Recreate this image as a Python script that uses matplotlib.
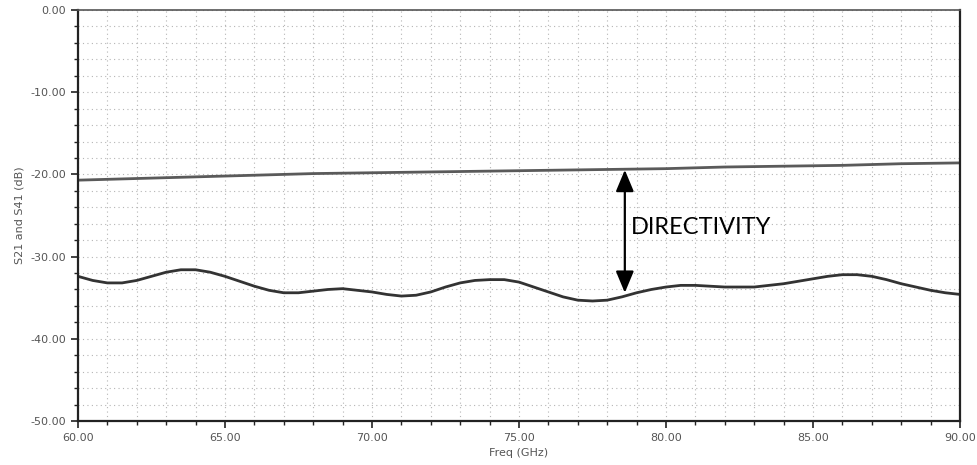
import matplotlib.pyplot as plt
from matplotlib.ticker import MultipleLocator, FormatStrFormatter

# frequency points (GHz) and traces (dB)
freq_upper = [60, 62, 64, 66, 68, 70, 72, 74, 76, 78, 80, 82, 84, 86, 88, 90]
s21 = [-20.7, -20.5, -20.3, -20.1, -19.9, -19.8, -19.7, -19.6, -19.5, -19.4,
       -19.3, -19.1, -19.0, -18.9, -18.7, -18.6]

freq_lower = [60.0, 60.5, 61.0, 61.5, 62.0, 62.5, 63.0, 63.5, 64.0, 64.5,
              65.0, 65.5, 66.0, 66.5, 67.0, 67.5, 68.0, 68.5, 69.0, 69.5,
              70.0, 70.5, 71.0, 71.5, 72.0, 72.5, 73.0, 73.5, 74.0, 74.5,
              75.0, 75.5, 76.0, 76.5, 77.0, 77.5, 78.0, 78.5, 79.0, 79.5,
              80.0, 80.5, 81.0, 81.5, 82.0, 82.5, 83.0, 83.5, 84.0, 84.5,
              85.0, 85.5, 86.0, 86.5, 87.0, 87.5, 88.0, 88.5, 89.0, 89.5, 90.0]
s41 = [-32.4, -32.9, -33.2, -33.2, -32.9, -32.4, -31.9, -31.6, -31.6, -31.9,
       -32.4, -33.0, -33.6, -34.1, -34.4, -34.4, -34.2, -34.0, -33.9, -34.1,
       -34.3, -34.6, -34.8, -34.7, -34.3, -33.7, -33.2, -32.9, -32.8, -32.8,
       -33.1, -33.7, -34.3, -34.9, -35.3, -35.4, -35.3, -34.9, -34.4, -34.0,
       -33.7, -33.5, -33.5, -33.6, -33.7, -33.7, -33.7, -33.5, -33.3, -33.0,
       -32.7, -32.4, -32.2, -32.2, -32.4, -32.8, -33.3, -33.7, -34.1, -34.4, -34.6]

arrow_freq = 78.6
arrow_top = -19.45
arrow_bottom = -34.4

fig = plt.figure(figsize=(9.77, 4.65), dpi=100)
ax = fig.add_axes([0.0798, 0.0946, 0.9028, 0.8839])

ax.plot(freq_upper, s21, color='#5a5a5a', linewidth=2, solid_joinstyle='round')
ax.plot(freq_lower, s41, color='#333333', linewidth=2, solid_joinstyle='round')

ax.set_xlim(60, 90)
ax.set_ylim(-50, 0)

ax.xaxis.set_major_locator(MultipleLocator(5))
ax.xaxis.set_minor_locator(MultipleLocator(1))
ax.yaxis.set_major_locator(MultipleLocator(10))
ax.yaxis.set_minor_locator(MultipleLocator(2))
ax.xaxis.set_major_formatter(FormatStrFormatter('%.2f'))
ax.yaxis.set_major_formatter(FormatStrFormatter('%.2f'))

ax.grid(True, which='both', linestyle=(0, (1, 3)), color='#b5b5b5', linewidth=0.8)
ax.tick_params(axis='both', which='major', direction='out', length=5,
               width=1.2, labelsize=8, labelcolor='#555555', color='#222222')
ax.tick_params(axis='both', which='minor', direction='out', length=3,
               width=1.0, color='#222222')

for side in ['left', 'bottom', 'right']:
    ax.spines[side].set_linewidth(1.6)
    ax.spines[side].set_color('#222222')
ax.spines['top'].set_linewidth(1.2)
ax.spines['top'].set_color('#555555')

ax.set_xlabel('Freq (GHz)', fontsize=8, color='#555555', labelpad=4)
ax.set_ylabel('S21 and S41 (dB)', fontsize=8, color='#555555', labelpad=4)

# directivity arrow and label
ax.annotate('', xy=(arrow_freq, arrow_top), xytext=(arrow_freq, arrow_bottom),
            arrowprops=dict(arrowstyle='<|-|>,head_length=0.6,head_width=0.25',
                            color='black', lw=1.6,
                            mutation_scale=22, shrinkA=0, shrinkB=0))
ax.text(arrow_freq + 0.22, -26.4, 'DIRECTIVITY', fontsize=17, family='Lato',
        va='center', ha='left', color='black')

fig.savefig('out.png', dpi=100)
